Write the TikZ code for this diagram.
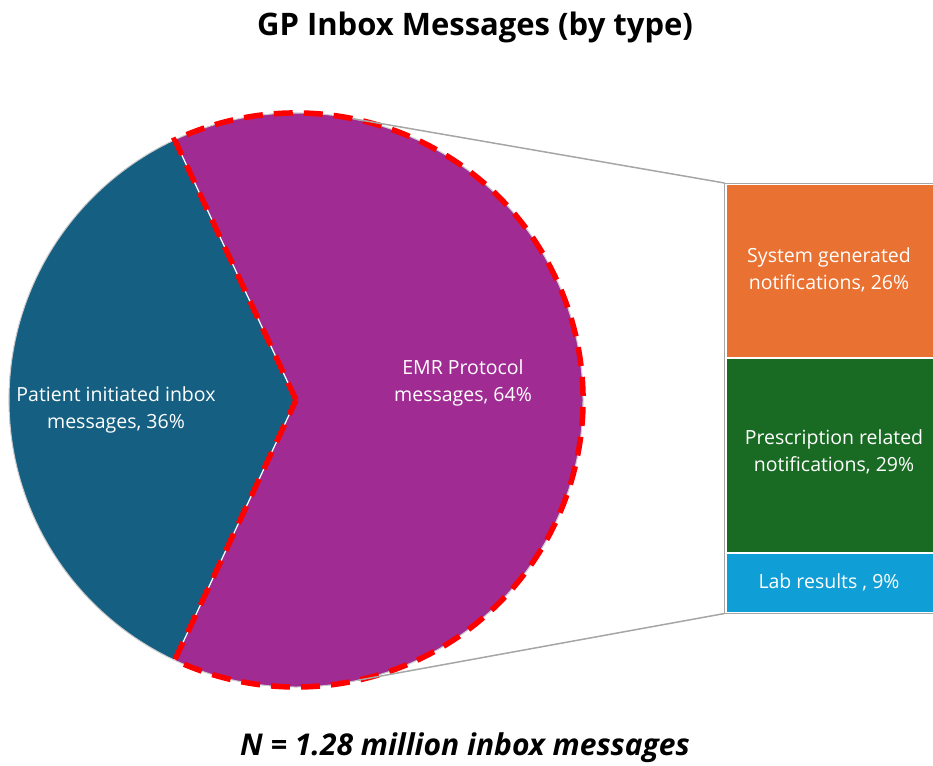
\documentclass[tikz,border=0pt]{standalone}
\usepackage{fontspec}
\setmainfont{Open Sans}
\definecolor{pieblue}{HTML}{156082}
\definecolor{piepurple}{HTML}{A02B93}
\definecolor{barorange}{HTML}{E97132}
\definecolor{bargreen}{HTML}{196B24}
\definecolor{barblue}{HTML}{0F9ED5}
\definecolor{linegray}{HTML}{A6A6A6}
\begin{document}
\begin{tikzpicture}[x=1pt,y={(0,-1pt)},
  lbl/.style={text=white, align=center, font=\fontsize{19.5}{27}\selectfont},
  conn/.style={draw=linegray, line width=1.5pt},
  redline/.style={draw=red, line width=5.5pt, dash pattern=on 19pt off 11pt}]
\useasboundingbox (0,0) rectangle (933,765);
% pie
\coordinate (C) at (296,400);
\begin{scope}[shift={(C)}]
  \fill[pieblue] (0,0) -- (115:287) arc[start angle=115, end angle=245, radius=287] -- cycle;
  \fill[piepurple] (0,0) -- (-115:287) arc[start angle=-115, end angle=115, radius=287] -- cycle;
  \draw[linegray!60, line width=1pt] (0,0) circle[radius=287];
  \draw[white, line width=1.2pt] (115:287) -- (0,0) -- (245:287);
  \draw[redline] (0,0) -- (-115:287) arc[start angle=-115, end angle=115, radius=287] -- cycle;
  \coordinate (pt) at (-78.5:287);
  \coordinate (pb) at (77.5:287);
\end{scope}
% bar
\fill[barorange] (727,185) rectangle (935,357);
\fill[bargreen] (727,359) rectangle (935,552);
\fill[barblue] (727,554) rectangle (935,612);
\draw[linegray, line width=1pt] (935,183) -- (724.5,183) coordinate (bt) -- (724.5,613.5) coordinate (bb) -- (935,613.5);
\draw[conn] (pt) -- (bt);
\draw[conn] (pb) -- (bb);
% labels
\node[lbl] (l1) at (116,410) {Patient initiated inbox\\messages, 36\%};
\node[lbl] (l2) at (463,383) {EMR Protocol\\messages, 64\%};
\node[lbl] (l3) at (829,270) {System generated\\notifications, 26\%};
\node[lbl] (l4) at (834,452) {Prescription related\\notifications, 29\%};
\node[lbl] (l5) at (829,582) {Lab results , 9\%};
\node[font=\fontsize{31}{36}\bfseries\selectfont] (title) at (475,27) {GP Inbox Messages (by type)};
\node[font=\fontsize{30}{36}\bfseries\itshape\selectfont] (foot) at (465,748) {N = 1.28 million inbox messages};
\end{tikzpicture}
\end{document}
